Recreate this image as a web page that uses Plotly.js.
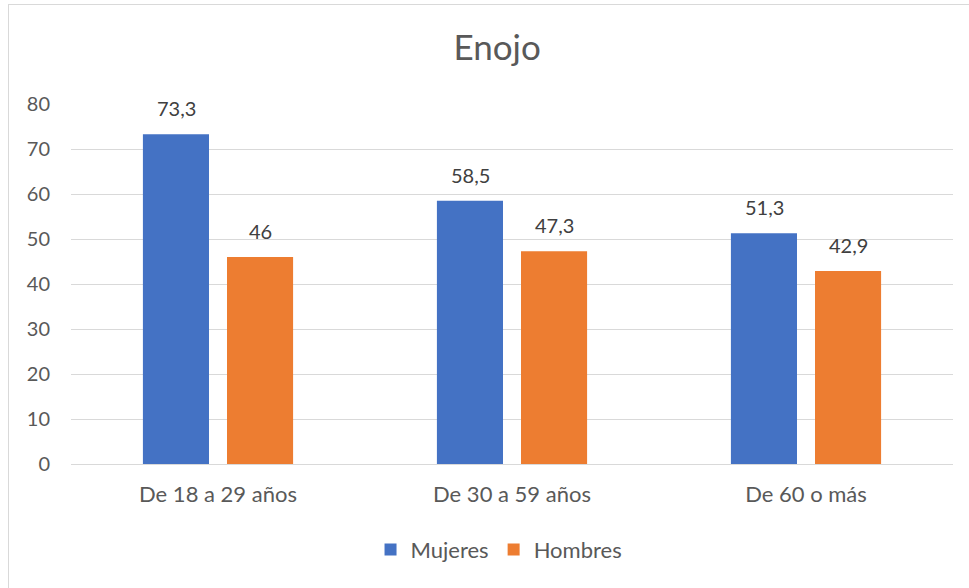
<!DOCTYPE html>
<html>
<head>
<meta charset="utf-8">
<script src="https://cdn.plot.ly/plotly-3.0.1.min.js"></script>
<style>
html,body{margin:0;padding:0;background:#fff;}
#frame{position:absolute;left:8px;top:4px;width:980px;height:600px;border-left:1px solid #d9d9d9;border-top:1px solid #d9d9d9;}
#chart{position:absolute;left:0;top:0;width:969px;height:588px;}
</style>
</head>
<body>
<div id="frame"></div>
<div id="chart"></div>
<script>
var categories = ["De 18 a 29 años", "De 30 a 59 años", "De 60 o más"];
var mujeres = [73.3, 58.5, 51.3];
var hombres = [46, 47.3, 42.9];
var seriesNames = ["Mujeres", "Hombres"];
var yTicks = [0, 10, 20, 30, 40, 50, 60, 70, 80];

var fmt = function(v){ return String(v).replace(".", ","); };
var txtColor = "#595959";
var fontFam = "Lato, 'Open Sans', sans-serif";

var traces = [
  {type:"bar", name:seriesNames[0], x:categories, y:mujeres, marker:{color:"#4472C4"}, hoverinfo:"none"},
  {type:"bar", name:seriesNames[1], x:categories, y:hombres, marker:{color:"#ED7D31"}, hoverinfo:"none"}
];

var annotations = [];
[mujeres, hombres].forEach(function(vals, si){
  vals.forEach(function(v, ci){
    annotations.push({
      x: categories[ci], y: v, xref:"x", yref:"y",
      text: fmt(v), showarrow:false,
      xshift: si === 0 ? -42 : 42, yshift: 26,
      yanchor:"middle", xanchor:"center",
      font:{family:fontFam, size:20, color:"#404040"}
    });
  });
});

var layout = {
  width:969, height:588,
  paper_bgcolor:"rgba(0,0,0,0)", plot_bgcolor:"rgba(0,0,0,0)",
  margin:{l:71, r:16, t:104, b:124},
  title:{text:"Enojo", x:0.513, xanchor:"center", xref:"container", y:0.918, yanchor:"middle", yref:"container",
         font:{family:fontFam, size:35, color:txtColor}},
  barmode:"group", bargap:0.428, bargroupgap:0.214,
  xaxis:{type:"category", showgrid:false, zeroline:false, showline:false, ticks:"",
         tickfont:{family:fontFam, size:22, color:txtColor}, ticklabelstandoff:15},
  yaxis:{range:[0,80], tickvals:yTicks, ticktext:yTicks.map(String), showgrid:true, gridcolor:"#d9d9d9", gridwidth:1,
         zeroline:true, zerolinecolor:"#d9d9d9", zerolinewidth:1, showline:false, ticks:"",
         tickfont:{family:fontFam, size:20, color:txtColor}, ticklabelstandoff:20},
  showlegend:true,
  legend:{orientation:"h", x:0.515, xanchor:"center", xref:"container", y:0.065, yanchor:"middle", yref:"container",
          font:{family:fontFam, size:22, color:txtColor}, itemwidth:30, traceorder:"normal"},
  annotations: annotations,
  font:{family:fontFam}
};

Plotly.newPlot("chart", traces, layout, {displayModeBar:false, staticPlot:true});
</script>
</body>
</html>
